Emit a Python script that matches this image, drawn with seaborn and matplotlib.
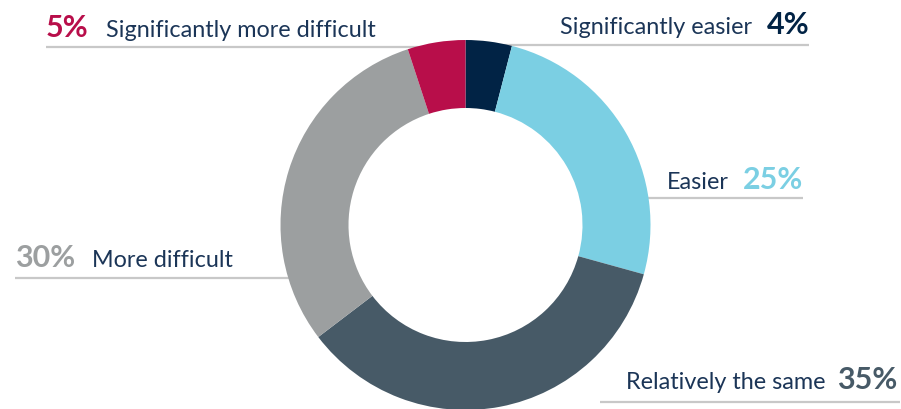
import matplotlib
matplotlib.use("Agg")
import matplotlib.pyplot as plt
import seaborn as sns

# Antwortkategorien, im Uhrzeigersinn ab 12 Uhr
categories = ["Significantly easier", "Easier", "Relatively the same",
              "More difficult", "Significantly more difficult"]
shares = [4, 25, 35, 30, 5]
pct_labels = ["4%", "25%", "35%", "30%", "5%"]

colors = ["#012345", "#7bcfe3", "#475a67", "#9c9fa0", "#b80e4a"]
text_color = "#1b3557"
line_color = "#c8c8c8"

sns.set_theme(style="white")
plt.rcParams["font.family"] = ["Lato", "DejaVu Sans"]

W, H = 901, 409
fig = plt.figure(figsize=(W / 100, H / 100), dpi=100)
ax = fig.add_axes([0, 0, 1, 1])

cx, cy, r_out, r_in = 465.5, H - 225, 185, 117

# Trennlinien hinter dem Ring
guide_lines = [
    (46, 430, 47),
    (500, 809, 44.5),
    (600, 803, 198),
    (15, 320, 278),
    (600, 900, 401.5),
]
for x0, x1, y in guide_lines:
    ax.plot([x0, x1], [H - y, H - y], color=line_color, lw=1.6, zorder=1,
            solid_capstyle="butt")

ax.pie(shares, colors=colors, startangle=90, counterclock=False,
       center=(cx, cy), radius=r_out,
       wedgeprops=dict(width=r_out - r_in, linewidth=0), frame=False)
for w in ax.patches:
    w.set_zorder(2)

ax.set_xlim(0, W)
ax.set_ylim(0, H)
ax.set_aspect("auto")
ax.axis("off")

lab_fs = 16.8
pct_fs = 22

def right_group(label, pct, color, x_right, y, gap=14):
    t = ax.text(x_right, H - y, pct, ha="right", va="baseline",
                fontsize=pct_fs, fontweight="bold", color=color)
    fig.canvas.draw()
    bb = t.get_window_extent()
    ax.text(bb.x0 - gap, H - y, label, ha="right", va="baseline",
            fontsize=lab_fs, color=text_color)

def left_group(label, pct, color, x_left, y, gap=17):
    t = ax.text(x_left, H - y, pct, ha="left", va="baseline",
                fontsize=pct_fs, fontweight="bold", color=color)
    fig.canvas.draw()
    bb = t.get_window_extent()
    ax.text(bb.x1 + gap, H - y, label, ha="left", va="baseline",
            fontsize=lab_fs, color=text_color)

right_group(categories[0], pct_labels[0], colors[0], 809, 34)
right_group(categories[1], pct_labels[1], colors[1], 803, 189)
right_group(categories[2], pct_labels[2], colors[2], 897, 389, gap=11)
left_group(categories[3], pct_labels[3], colors[3], 15, 267)
left_group(categories[4], pct_labels[4], colors[4], 46, 37)

fig.savefig("out.png", dpi=100)
